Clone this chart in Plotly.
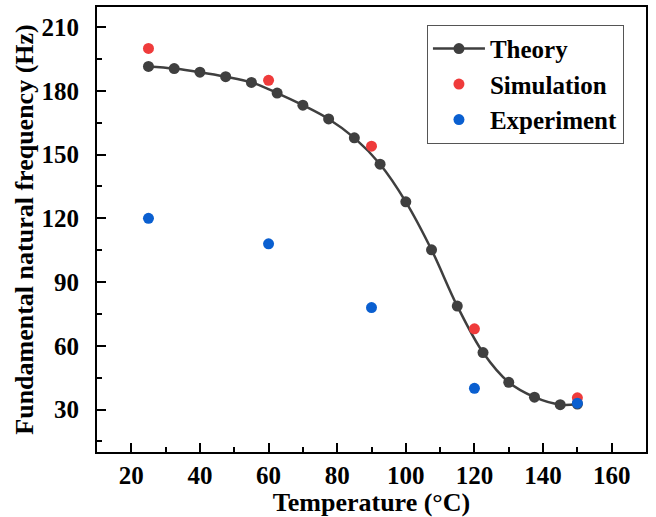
import plotly.graph_objects as go

theory_t = [25, 32.5, 40, 47.5, 55, 62.5, 70, 77.5, 85, 92.5, 100, 107.5, 115, 122.5, 130, 137.5, 145, 150]
theory_f = [191.5, 190.5, 188.8, 186.7, 184, 179, 173.3, 166.8, 157.9, 145.5, 127.8, 105.2, 78.7, 56.8, 42.8, 35.8, 32.3, 32.6]

sim_t = [25, 60, 90, 120, 150]
sim_f = [200, 185, 154, 68, 35.5]

exp_t = [25, 60, 90, 120, 150]
exp_f = [120, 108, 78, 40, 33]

x_ticks = [20, 40, 60, 80, 100, 120, 140, 160]
y_ticks = [30, 60, 90, 120, 150, 180, 210]

font = "Liberation Serif, Times New Roman, serif"
bold = dict(family=font, size=25, color="black", weight="bold")

fig = go.Figure()
fig.add_trace(go.Scatter(x=theory_t, y=theory_f, mode="lines+markers", name="Theory",
                         line=dict(color="#3f3f3f", width=2.5, shape="spline"),
                         marker=dict(color="#3f3f3f", size=11)))
fig.add_trace(go.Scatter(x=sim_t, y=sim_f, mode="markers", name="Simulation",
                         marker=dict(color="#ef3b3b", size=11)))
fig.add_trace(go.Scatter(x=exp_t, y=exp_f, mode="markers", name="Experiment",
                         marker=dict(color="#0a5fd0", size=11)))

fig.update_layout(
    width=656, height=517,
    margin=dict(l=97, r=10, t=7, b=65),
    paper_bgcolor="white", plot_bgcolor="white",
    font=bold,
    showlegend=True,
    legend=dict(x=0.601, y=0.96, xanchor="left", yanchor="top",
                bordercolor="#555555", borderwidth=1, bgcolor="white",
                font=dict(family=font, size=25, color="black", weight="bold"),
                tracegroupgap=0, itemwidth=52),
    xaxis=dict(range=[10, 170], tickvals=x_ticks, ticks="inside", ticklen=9, tickwidth=2,
               tickcolor="black", showline=True, linecolor="black", linewidth=2, mirror=True,
               showgrid=False, zeroline=False, automargin=False,
               minor=dict(ticks="inside", ticklen=5, tickwidth=2, tickcolor="black", dtick=10),
               tickfont=bold, ticklabelstandoff=0,
               title=dict(text="Temperature (°C)", standoff=4,
                          font=dict(family=font, size=26, color="black", weight="bold"))),
    yaxis=dict(range=[10, 219.5], tickvals=y_ticks, ticks="inside", ticklen=9, tickwidth=2,
               tickcolor="black", showline=True, linecolor="black", linewidth=2, mirror=True,
               showgrid=False, zeroline=False, automargin=False,
               minor=dict(ticks="inside", ticklen=5, tickwidth=2, tickcolor="black", dtick=15),
               tickfont=bold, ticklabelstandoff=11,
               title=dict(text="Fundamental natural frequency (Hz)", standoff=0,
                          font=dict(family=font, size=26, color="black", weight="bold"))),
)

fig.write_html("out.html", config={"displayModeBar": False},
               post_script="document.body.style.margin='0';document.body.style.padding='0';")
